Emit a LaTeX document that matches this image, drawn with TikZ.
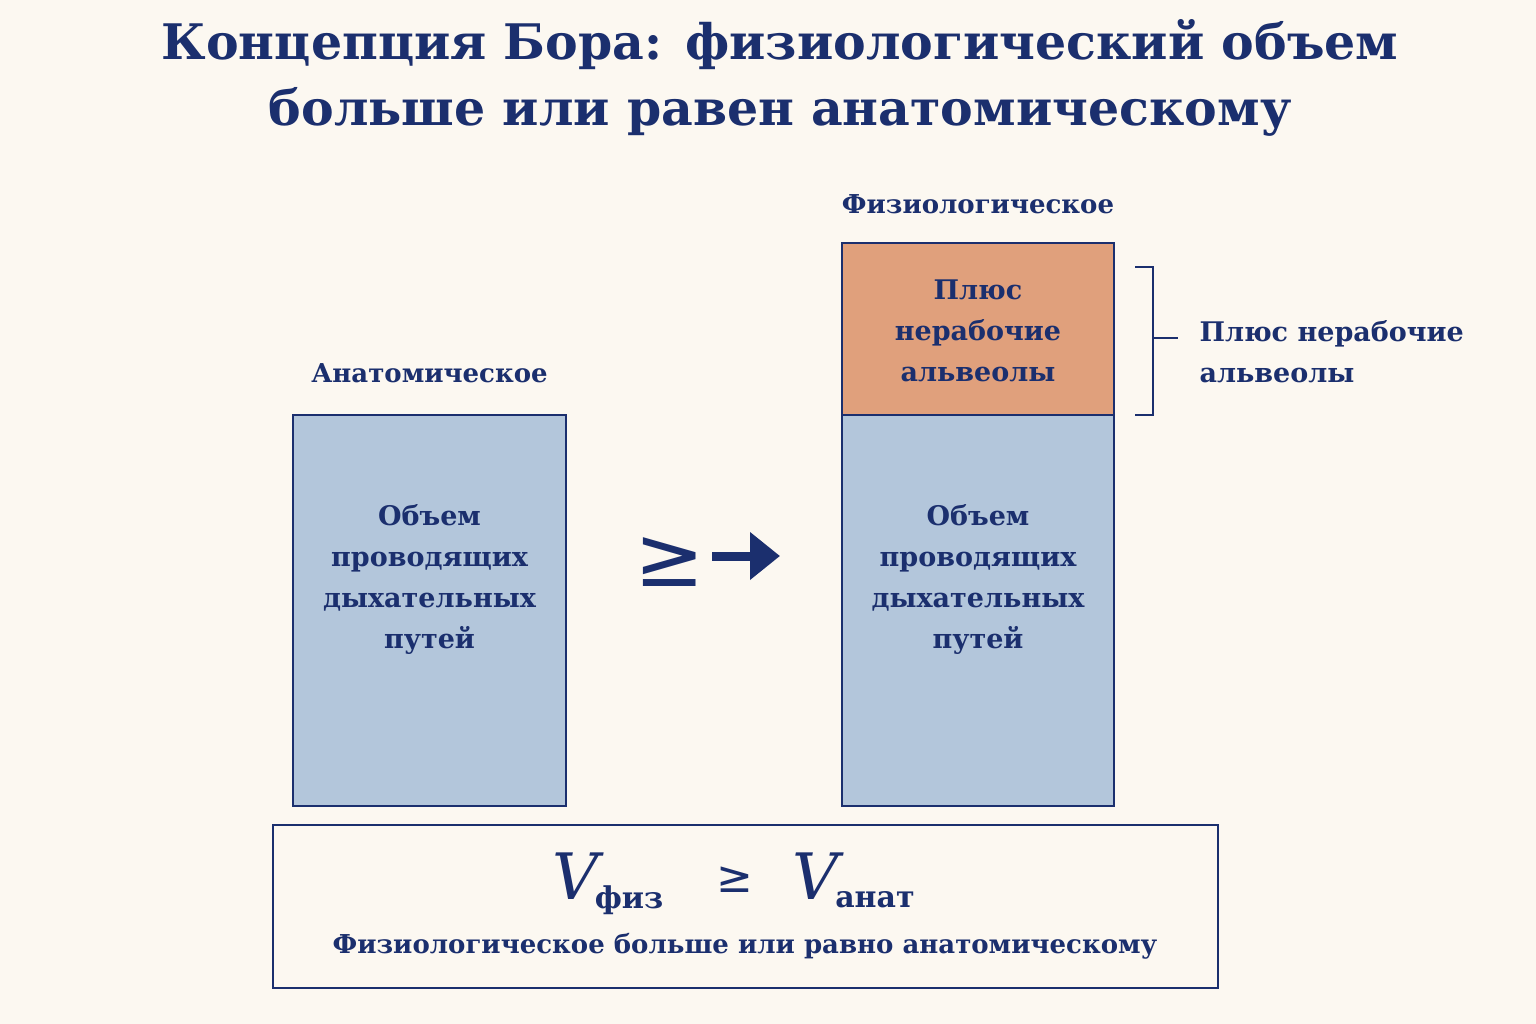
\documentclass[tikz,border=0pt]{standalone}
\usepackage{fontspec}
\setmainfont{DejaVu Serif}
\usetikzlibrary{arrows.meta}
\definecolor{bg}{HTML}{FCF8F1}
\definecolor{bfill}{HTML}{B3C6DB}
\definecolor{ink}{HTML}{1B2F6E}
\definecolor{ofill}{HTML}{E0A07C}
\begin{document}
\begin{tikzpicture}[x=1pt,y=-1pt,
  txt/.style={text=ink,font=\bfseries\fontsize{27}{41}\selectfont,align=center},
  box/.style={draw=ink,line width=2.2pt}]
\fill[bg] (0,0) rectangle (1536,1024);
\useasboundingbox (0,0) rectangle (1536,1024);
\node[text=ink,font=\bfseries\fontsize{49}{66}\selectfont,align=center] (title) at (780,78) {Концепция Бора: физиологический объем\\больше или равен анатомическому};
% left
\draw[box,fill=bfill] (293,415) rectangle (566,806);
\node[txt] (lt) at (429.5,580) {Объем\\проводящих\\дыхательных\\путей};
\node[txt,font=\bfseries\fontsize{26}{35}\selectfont] (lh) at (429.5,373) {Анатомическое};
% right
\draw[box,fill=bfill] (842,415) rectangle (1114,806);
\draw[box,fill=ofill] (842,243) rectangle (1114,415);
\node[txt] (rt) at (978,580) {Объем\\проводящих\\дыхательных\\путей};
\node[txt] (ot) at (978,331) {Плюс\\нерабочие\\альвеолы};
\node[txt,font=\bfseries\fontsize{26}{35}\selectfont] (rh) at (978,204) {Физиологическое};
% bracket
\coordinate (b1) at (1135,267); \coordinate (b2) at (1153,267);
\coordinate (b3) at (1153,415); \coordinate (b4) at (1135,415);
\coordinate (bm) at (1153,338); \coordinate (bt) at (1178,338);
\draw[ink,line width=2pt] (b1) -- (b2) -- (b3) -- (b4);
\draw[ink,line width=2pt] (bm) -- (bt);
\node[txt,align=left,anchor=west] (bl) at (1196,352) {Плюс нерабочие\\альвеолы};
% geq arrow
\node[text=ink,font=\fontsize{84}{84}\selectfont] (geq) at (670,562) {\fontspec{DejaVu Sans}≥};
\coordinate (a1) at (712,556); \coordinate (a2) at (780,556);
\draw[ink,line width=9pt,-{Triangle[length=30pt,width=46pt]}] (a1) -- (a2);
% bottom
\draw[box] (273,825) rectangle (1218,988);
\node[text=ink,font=\itshape\fontsize{64}{64}\selectfont] (v1) at (576,876) {V};
\node[text=ink,font=\bfseries\fontsize{30}{30}\selectfont] (s1) at (629,900) {физ};
\node[text=ink,font=\fontsize{44}{44}\selectfont] (g2) at (735,880) {\fontspec{DejaVu Sans}≥};
\node[text=ink,font=\itshape\fontsize{64}{64}\selectfont] (v2) at (816,876) {V};
\node[text=ink,font=\bfseries\fontsize{30}{30}\selectfont] (s2) at (875,900) {анат};
\node[txt,font=\bfseries\fontsize{26}{36}\selectfont] (cap) at (745,946) {Физиологическое больше или равно анатомическому};
\end{tikzpicture}
\end{document}
